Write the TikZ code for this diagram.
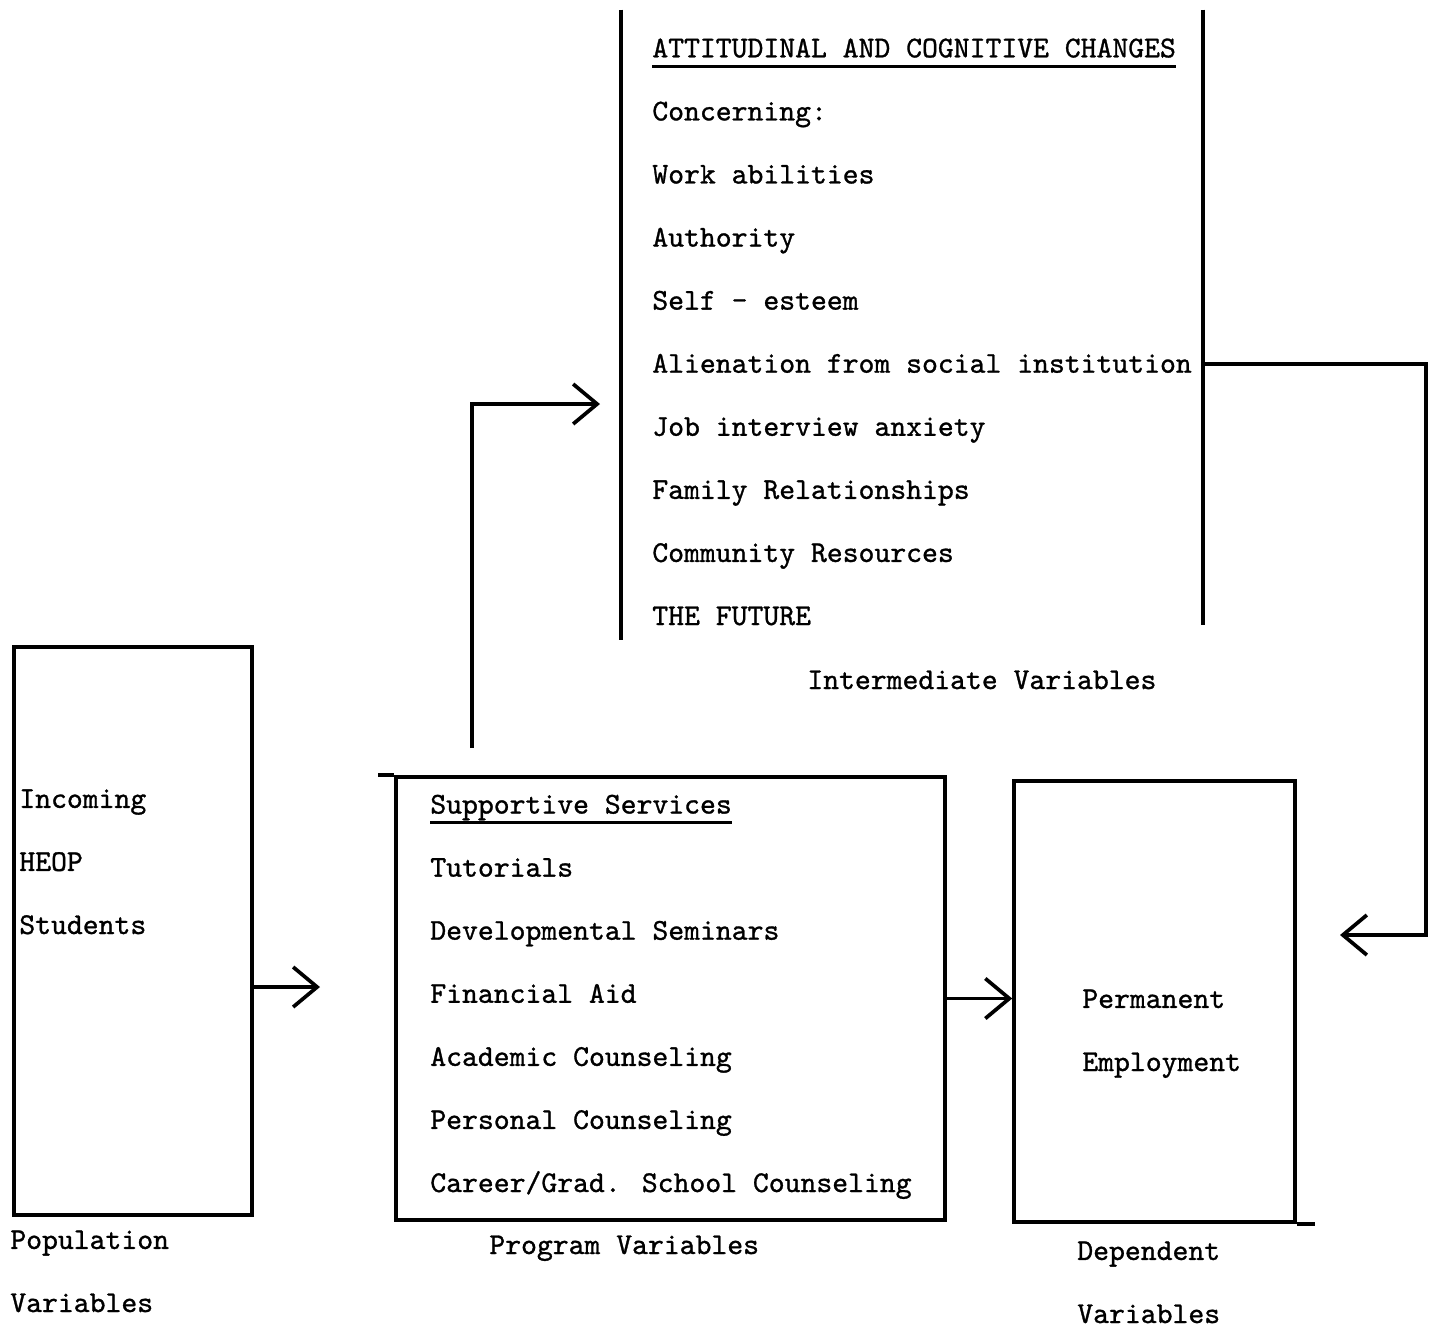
\documentclass[tikz,border=0pt]{standalone}
\usepackage{fontspec}
\usetikzlibrary{arrows.meta}
\newfontfamily\twfont{lmmono10-regular.otf}[FakeBold=1]
\newcommand\tw{\twfont\fontsize{17.2}{35.9}\selectfont}
\newcommand\underl[1]{\setbox0\hbox{#1}\rlap{\rule[-6pt]{\wd0}{1.5pt}}\box0}

\begin{document}
\begin{tikzpicture}[
  x=0.02cm, y=-0.02cm,
  box/.style={draw, line width=2.1pt, inner sep=0pt},
  rule/.style={line width=2.1pt},
  txt/.style={font=\tw, align=left, inner sep=0pt, anchor=base west},
  flow/.style={line width=2.1pt, -{Straight Barb[length=0.48cm, width=0.8cm]}}
]
\useasboundingbox (0,0) rectangle (1445,1329);

% boxes
\node[box, minimum width=4.76cm, minimum height=11.36cm] (pop) at (133,931) {};
\node[box, minimum width=10.98cm, minimum height=8.86cm] (serv) at (670.5,998.5) {};
\node[box, minimum width=5.62cm, minimum height=8.82cm] (dep) at (1154.5,1001.5) {};
\node[minimum width=11.64cm, minimum height=12.6cm, inner sep=0pt] (att) at (912,325) {};
\draw[rule] (att.north west) -- (att.south west);
\draw[rule] (att.north east) -- ([yshift=0.3cm]att.south east);
\draw[rule] (serv.north west) -- ++(-16,0);
\draw[rule] (dep.south east) -- ++(18,0);

% box contents (anchored at the last line)
\node[txt] (attList) at (652,625) {\underl{ATTITUDINAL AND COGNITIVE CHANGES}\\Concerning:\\Work abilities\\Authority\\Self - esteem\\Alienation from social institution\\Job interview anxiety\\Family Relationships\\Community Resources\\THE FUTURE};
\node[txt] (popList) at (19,934) {Incoming\\HEOP\\Students};
\node[txt] (servList) at (430,1192) {\underl{Supportive Services}\\Tutorials\\Developmental Seminars\\Financial Aid\\Academic Counseling\\Personal Counseling\\Career/Grad. School Counseling};
\node[txt] (depList) at (1082,1071) {Permanent\\Employment};

% captions
\node[txt] (attLab) at (807,689) {Intermediate Variables};
\node[txt] (popLab) at (10,1312) {Population\\Variables};
\node[txt] (servLab) at (489,1254) {Program Variables};
\node[txt] (depLab) at (1077,1323) {Dependent\\Variables};

% connectors
\coordinate (popTip) at (320,987);
\coordinate (servUp) at (472,748);
\coordinate (attIn) at (600,404);
\coordinate (attOut) at (1203,364);
\coordinate (depIn) at (1340,935);

\draw[flow] (pop.east |- popTip) -- (popTip);
\draw[flow] (serv.east) -- (serv.east -| dep.west);
\draw[flow] (servUp) |- (attIn);
\draw[flow] (attOut) -- ++(223,0) |- (depIn);
\end{tikzpicture}
\end{document}
